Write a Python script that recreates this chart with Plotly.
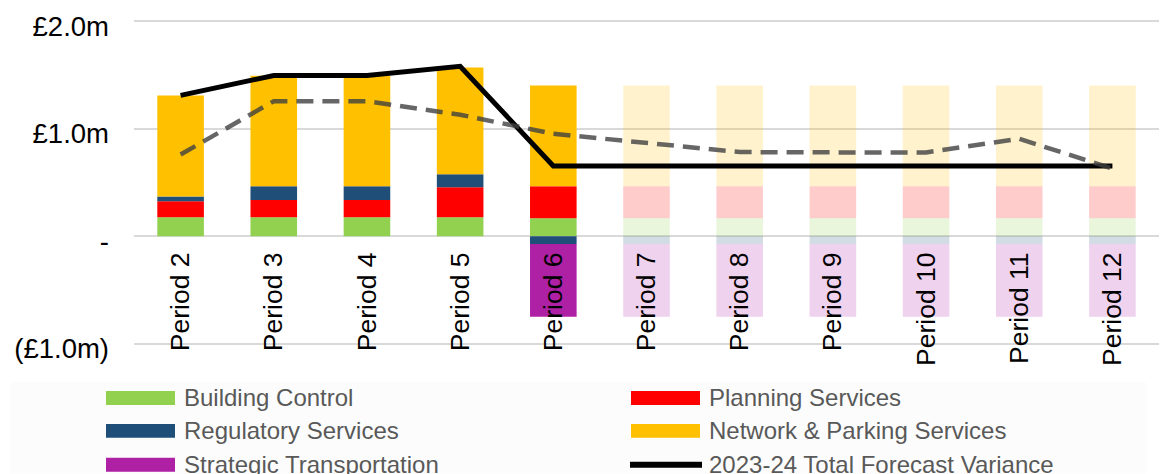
import plotly.graph_objects as go

periods = ["Period 2", "Period 3", "Period 4", "Period 5", "Period 6", "Period 7",
           "Period 8", "Period 9", "Period 10", "Period 11", "Period 12"]

building_control = [0.176, 0.176, 0.176, 0.176, 0.167, 0.167, 0.167, 0.167, 0.167, 0.167, 0.167]
planning_services = [0.149, 0.161, 0.161, 0.279, 0.297, 0.297, 0.297, 0.297, 0.297, 0.297, 0.297]
regulatory_services = [0.046, 0.127, 0.127, 0.121, -0.071, -0.071, -0.071, -0.071, -0.071, -0.071, -0.071]
network_parking = [0.938, 1.028, 1.028, 0.993, 0.938, 0.938, 0.938, 0.938, 0.938, 0.938, 0.938]
strategic_transport = [0, 0, 0, 0, -0.677, -0.677, -0.677, -0.677, -0.677, -0.677, -0.677]
total_variance = [1.31, 1.495, 1.495, 1.58, 0.653, 0.653, 0.653, 0.653, 0.653, 0.653, 0.653]
prior_variance = [0.76, 1.256, 1.256, 1.13, 0.953, 0.866, 0.783, 0.78, 0.78, 0.907, 0.629]
is_forecast = [False] * 5 + [True] * 6

y_tickvals = [-1, 0, 1, 2]
y_ticktext = ["(£1.0m)", "-", "£1.0m", "£2.0m"]

series = [
    ("Building Control", building_control, "#92D050"),
    ("Planning Services", planning_services, "#FF0000"),
    ("Regulatory Services", regulatory_services, "#1F4E79"),
    ("Network & Parking Services", network_parking, "#FFC000"),
    ("Strategic Transportation", strategic_transport, "#AE20A4"),
]

opac = [0.2 if f else 1.0 for f in is_forecast]

fig = go.Figure()
for name, vals, col in series:
    fig.add_trace(go.Bar(
        x=periods, y=vals, name=name, showlegend=False,
        marker=dict(color=col, opacity=opac, line=dict(width=0)),
    ))

fig.add_trace(go.Scatter(
    x=periods, y=total_variance, name="2023-24 Total Forecast Variance",
    mode="lines", line=dict(color="black", width=5), showlegend=False,
))
fig.add_trace(go.Scatter(
    x=periods, y=prior_variance, name="Prior Forecast",
    mode="lines", line=dict(color="rgba(64,64,64,0.8)", width=4.5, dash="17px,9px"),
    showlegend=False,
))

W, H = 1160, 474
ML, MR, MT, MB = 134, 1, 18.5, 128
PW, PH = W - ML - MR, H - MT - MB
Y_RANGE = [-1.02, 2.02]


def px(xp):
    return (xp - ML) / PW


def py(yp):
    return (H - MB - yp) / PH


FONT = "Liberation Sans, Arial, sans-serif"
shapes = []
annotations = []

# legend background
shapes.append(dict(type="rect", xref="paper", yref="paper",
                   x0=px(10), x1=px(1146), y0=py(382), y1=py(474),
                   fillcolor="#FCFCFC", line=dict(width=0), layer="below"))

legend_items = [
    ("Building Control", "#92D050", 0, 0, "box"),
    ("Planning Services", "#FF0000", 1, 0, "box"),
    ("Regulatory Services", "#1F4E79", 0, 1, "box"),
    ("Network & Parking Services", "#FFC000", 1, 1, "box"),
    ("Strategic Transportation", "#AE20A4", 0, 2, "box"),
    ("2023-24 Total Forecast Variance", "black", 1, 2, "line"),
]
col_x = [106, 631]
row_y = [398, 431, 465]
for text, col, c, r, kind in legend_items:
    x0 = col_x[c]
    yc = row_y[r]
    if kind == "box":
        shapes.append(dict(type="rect", xref="paper", yref="paper",
                           x0=px(x0), x1=px(x0 + 69), y0=py(yc - 7), y1=py(yc + 7),
                           fillcolor=col, line=dict(width=0)))
    else:
        shapes.append(dict(type="line", xref="paper", yref="paper",
                           x0=px(x0 - 1), x1=px(x0 + 71), y0=py(yc), y1=py(yc),
                           line=dict(color=col, width=6)))
    annotations.append(dict(text=text, xref="paper", yref="paper",
                            x=px(x0 + 76), y=py(yc), xanchor="left", yanchor="middle",
                            showarrow=False,
                            font=dict(family=FONT, size=24, color="#595959")))

fig.update_layout(
    width=W, height=H,
    margin=dict(l=ML, r=MR, t=MT, b=MB, pad=0),
    barmode="relative",
    bargap=0.5,
    plot_bgcolor="white",
    paper_bgcolor="white",
    showlegend=False,
    font=dict(family=FONT, color="black"),
    shapes=shapes,
    annotations=annotations,
    xaxis=dict(
        type="category",
        anchor="free",
        position=py(236),
        tickangle=-90,
        ticks="",
        showgrid=False,
        showline=False,
        zeroline=False,
        tickfont=dict(family=FONT, size=26.5, color="black"),
        ticklabelstandoff=10,
    ),
    yaxis=dict(
        range=Y_RANGE,
        tickvals=y_tickvals,
        ticktext=y_ticktext,
        showgrid=True,
        gridcolor="#D9D9D9",
        gridwidth=1.5,
        zeroline=False,
        showline=False,
        ticks="",
        tickfont=dict(family=FONT, size=27.5, color="black"),
        ticklabelstandoff=24,
        ticklabelshift=5,
    ),
)

fig.write_html("out.html")
